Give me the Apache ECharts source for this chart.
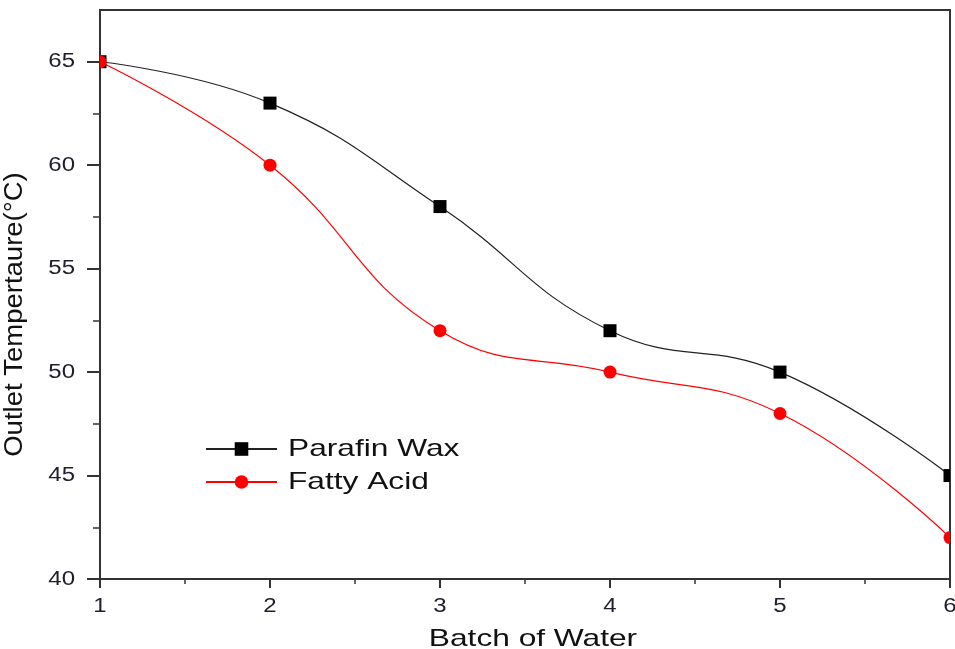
<!DOCTYPE html>
<html>
<head>
<meta charset="utf-8">
<script src="https://cdn.jsdelivr.net/npm/echarts@6/dist/echarts.min.js"></script>
<style>
  html, body { margin: 0; padding: 0; background: #fff; }
  #chart { width: 955px; height: 649px; }
</style>
</head>
<body>
<div id="chart"></div>
<script>
// Outlet temperature per batch of water for two storage materials
const batches = [1, 2, 3, 4, 5, 6];
const parafinWax = [65, 63, 58, 52, 50, 45];
const fattyAcid = [65, 60, 52, 50, 48, 42];
const yMajorTicks = [40, 45, 50, 55, 60, 65];
const yMinorTicks = [42.5, 47.5, 52.5, 57.5, 62.5];
const xMajorTicks = [1, 2, 3, 4, 5, 6];

const font = 'Arial, "Liberation Sans", sans-serif';
const axisColor = '#333';
const labelColor = '#1e1e2c';
const markerSize = 13;

// Horizontally widened lettering, chosen by font size
// (20px tick labels, 24px legend / x title, 25px y title)
const stretchBySize = { 20: 1.2, 24: 1.32, 25: 1.1 };
const nativeFillText = CanvasRenderingContext2D.prototype.fillText;
CanvasRenderingContext2D.prototype.fillText = function (text, x, y, maxWidth) {
  const m = /(\d+(?:\.\d+)?)px/.exec(this.font);
  const s = m ? stretchBySize[Math.round(parseFloat(m[1]))] : undefined;
  if (!s) {
    return maxWidth === undefined
      ? nativeFillText.call(this, text, x, y)
      : nativeFillText.call(this, text, x, y, maxWidth);
  }
  this.save();
  this.translate(x, y);
  this.scale(s, 1);
  nativeFillText.call(this, text, 0, 0);
  this.restore();
};

const chart = echarts.init(document.getElementById('chart'), null, { renderer: 'canvas' });

const pairs = (xs, ys) => xs.map((x, i) => [x, ys[i]]);

// Markers drawn as a custom series so they are cut off at the plot frame
function markerSeries(name, ys, shape, color, z) {
  return {
    name: name, type: 'custom', clip: true, silent: true,
    xAxisIndex: 0, yAxisIndex: 0, z: z,
    data: pairs(batches, ys),
    renderItem: function (params, api) {
      const p = api.coord([api.value(0), api.value(1)]);
      const h = markerSize / 2;
      if (shape === 'rect') {
        return { type: 'rect', shape: { x: p[0] - h, y: p[1] - h, width: markerSize, height: markerSize }, style: { fill: color } };
      }
      return { type: 'circle', shape: { cx: p[0], cy: p[1], r: h }, style: { fill: color } };
    }
  };
}

chart.setOption({
  animation: false,
  backgroundColor: '#fff',
  grid: {
    left: 100, right: 5, top: 10, bottom: 70,
    outerBoundsMode: 'none',
    show: true, borderColor: axisColor, borderWidth: 2, backgroundColor: 'transparent'
  },
  legend: {
    orient: 'vertical',
    left: 200, top: 432,
    itemWidth: 71, itemHeight: 17, itemGap: 9,
    textStyle: { fontFamily: font, fontSize: 24, color: '#111', padding: [0, 0, 0, 6] },
    data: ['Parafin Wax', 'Fatty Acid']
  },
  xAxis: [
    {
      type: 'value', min: 1, max: 6, interval: 1,
      name: 'Batch of Water', nameLocation: 'middle', nameGap: 48,
      nameTextStyle: { fontFamily: font, fontSize: 24, color: '#111', padding: [0, 0, 0, 16] },
      axisLine: { show: true, lineStyle: { color: axisColor, width: 2 } },
      axisTick: { show: true, inside: false, length: 9, lineStyle: { color: axisColor, width: 2 }, customValues: xMajorTicks },
      axisLabel: { fontFamily: font, fontSize: 20, color: labelColor, margin: 17, customValues: xMajorTicks },
      splitLine: { show: false }
    },
    {
      // half-step minor ticks
      type: 'value', min: 1, max: 6, interval: 0.5, position: 'bottom',
      axisLine: { show: false },
      axisTick: { show: true, length: 5, lineStyle: { color: axisColor, width: 1.5 } },
      axisLabel: { show: false },
      splitLine: { show: false }
    }
  ],
  yAxis: [
    {
      type: 'value', min: 40, max: 67.5, interval: 5,
      name: 'Outlet Tempertaure(°C)', nameLocation: 'middle', nameGap: 72,
      nameTextStyle: { fontFamily: font, fontSize: 25, color: '#111', padding: [0, 40, 0, 0] },
      axisLine: { show: true, lineStyle: { color: axisColor, width: 2 } },
      axisTick: { show: true, length: 13, lineStyle: { color: axisColor, width: 2 }, customValues: yMajorTicks },
      axisLabel: { fontFamily: font, fontSize: 20, color: labelColor, margin: 25, customValues: yMajorTicks },
      splitLine: { show: false }
    },
    {
      type: 'value', min: 40, max: 67.5, interval: 2.5, position: 'left',
      axisLine: { show: false },
      axisTick: { show: true, length: 7, lineStyle: { color: axisColor, width: 1.5 }, customValues: yMinorTicks },
      axisLabel: { show: false },
      splitLine: { show: false }
    }
  ],
  series: [
    {
      name: 'Parafin Wax', type: 'line', smooth: 0.45,
      xAxisIndex: 0, yAxisIndex: 0,
      data: pairs(batches, parafinWax),
      symbol: 'rect', symbolSize: 0,
      itemStyle: { color: '#000' },
      lineStyle: { color: '#222', width: 1.2 },
      z: 2
    },
    {
      name: 'Fatty Acid', type: 'line', smooth: 0.45,
      xAxisIndex: 0, yAxisIndex: 0,
      data: pairs(batches, fattyAcid),
      symbol: 'circle', symbolSize: 0,
      itemStyle: { color: '#ff0000' },
      lineStyle: { color: '#ff0000', width: 1.2 },
      z: 3
    },
    markerSeries('Parafin Wax points', parafinWax, 'rect', '#000', 4),
    markerSeries('Fatty Acid points', fattyAcid, 'circle', '#ff0000', 5)
  ]
});
</script>
</body>
</html>
